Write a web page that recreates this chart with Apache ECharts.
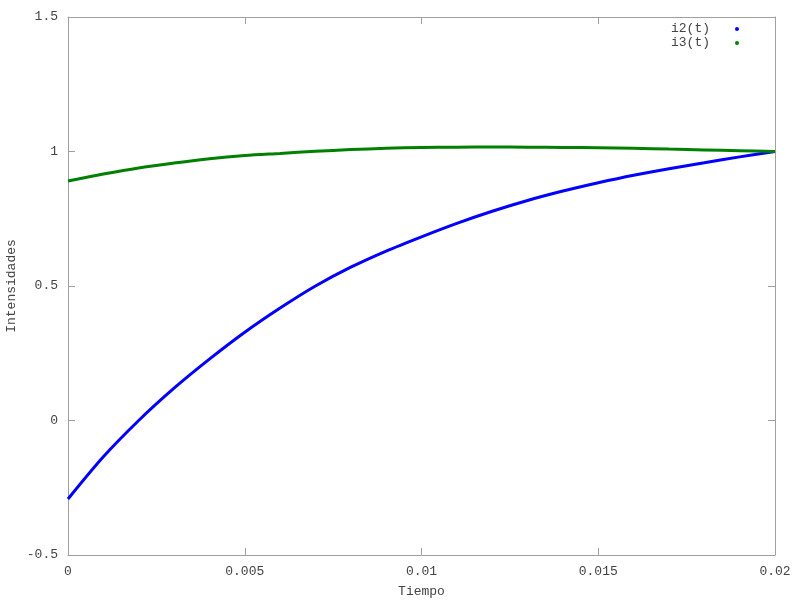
<!DOCTYPE html>
<html>
<head>
<meta charset="utf-8">
<script src="https://cdn.jsdelivr.net/npm/echarts@6/dist/echarts.min.js"></script>
<style>html,body{margin:0;padding:0;background:#fff}#c{width:800px;height:600px}</style>
</head>
<body>
<div id="c"></div>
<script>
var times = [0, 0.001, 0.002, 0.003, 0.004, 0.005, 0.006, 0.007, 0.008, 0.009, 0.010,
             0.011, 0.012, 0.013, 0.014, 0.015, 0.016, 0.017, 0.018, 0.019, 0.020];
var i2 = [-0.292, -0.135, 0.0, 0.12, 0.228, 0.328, 0.418, 0.5, 0.57, 0.63, 0.683,
          0.733, 0.778, 0.818, 0.853, 0.884, 0.912, 0.936, 0.958, 0.98, 1.0];
var i3 = [0.89, 0.916, 0.939, 0.957, 0.973, 0.985, 0.993, 1.001, 1.007, 1.012, 1.015,
          1.016, 1.017, 1.016, 1.015, 1.014, 1.012, 1.009, 1.006, 1.003, 1.0];
var seriesNames = ['i2(t)', 'i3(t)'];
var xTitle = 'Tiempo';
var yTitle = 'Intensidades';

function pairs(v) { return times.map(function (t, k) { return [t, v[k]]; }); }

var font = 'Liberation Mono';
var axisGrey = '#a0a0a0';
var textCol = '#444';

var chart = echarts.init(document.getElementById('c'));
chart.setOption({
  animation: false,
  backgroundColor: '#fff',
  textStyle: { fontFamily: font },
  grid: { left: 68, right: 25, top: 17, bottom: 45, containLabel: false, outerBoundsMode: 'none' },
  legend: {
    orient: 'vertical', right: 56, top: 17, align: 'right',
    itemWidth: 4, itemHeight: 4, itemGap: 0,
    textStyle: { fontFamily: font, fontSize: 13, lineHeight: 14, color: textCol, padding: [0, 20, 0, 0] },
    data: [
      { name: seriesNames[0], icon: 'circle' },
      { name: seriesNames[1], icon: 'circle' }
    ]
  },
  xAxis: [{
    type: 'value', min: 0, max: 0.02, interval: 0.005, position: 'bottom',
    name: xTitle, nameLocation: 'middle', nameGap: 30, nameMoveOverlap: false,
    nameTextStyle: { fontFamily: font, fontSize: 13, color: textCol },
    axisLine: { show: true, onZero: false, lineStyle: { color: axisGrey, width: 1 } },
    axisTick: { show: true, inside: true, length: 7, lineStyle: { color: axisGrey } },
    axisLabel: { fontFamily: font, fontSize: 13, color: textCol, margin: 10 },
    splitLine: { show: false }
  }, {
    type: 'value', min: 0, max: 0.02, interval: 0.005, position: 'top',
    axisLine: { show: true, onZero: false, lineStyle: { color: axisGrey, width: 1 } },
    axisTick: { show: true, inside: true, length: 7, lineStyle: { color: axisGrey } },
    axisLabel: { show: false }, splitLine: { show: false }
  }],
  yAxis: [{
    type: 'value', min: -0.5, max: 1.5, interval: 0.5, position: 'left',
    name: yTitle, nameLocation: 'middle', nameGap: 50, nameRotate: 90, nameMoveOverlap: false,
    nameTextStyle: { fontFamily: font, fontSize: 13, color: textCol },
    axisLine: { show: true, onZero: false, lineStyle: { color: axisGrey, width: 1 } },
    axisTick: { show: true, inside: true, length: 7, lineStyle: { color: axisGrey } },
    axisLabel: { fontFamily: font, fontSize: 13, color: textCol, margin: 10 },
    splitLine: { show: false }
  }, {
    type: 'value', min: -0.5, max: 1.5, interval: 0.5, position: 'right',
    axisLine: { show: true, onZero: false, lineStyle: { color: axisGrey, width: 1 } },
    axisTick: { show: true, inside: true, length: 7, lineStyle: { color: axisGrey } },
    axisLabel: { show: false }, splitLine: { show: false }
  }],
  series: [
    {
      name: seriesNames[0], type: 'line', data: pairs(i2), smooth: 0.3,
      showSymbol: false, symbol: 'circle', clip: false,
      itemStyle: { color: '#0000ff' },
      lineStyle: { color: '#0000ff', width: 3 }
    },
    {
      name: seriesNames[1], type: 'line', data: pairs(i3), smooth: 0.3,
      showSymbol: false, symbol: 'circle', clip: false,
      itemStyle: { color: '#008000' },
      lineStyle: { color: '#008000', width: 3 }
    }
  ]
});
</script>
</body>
</html>
